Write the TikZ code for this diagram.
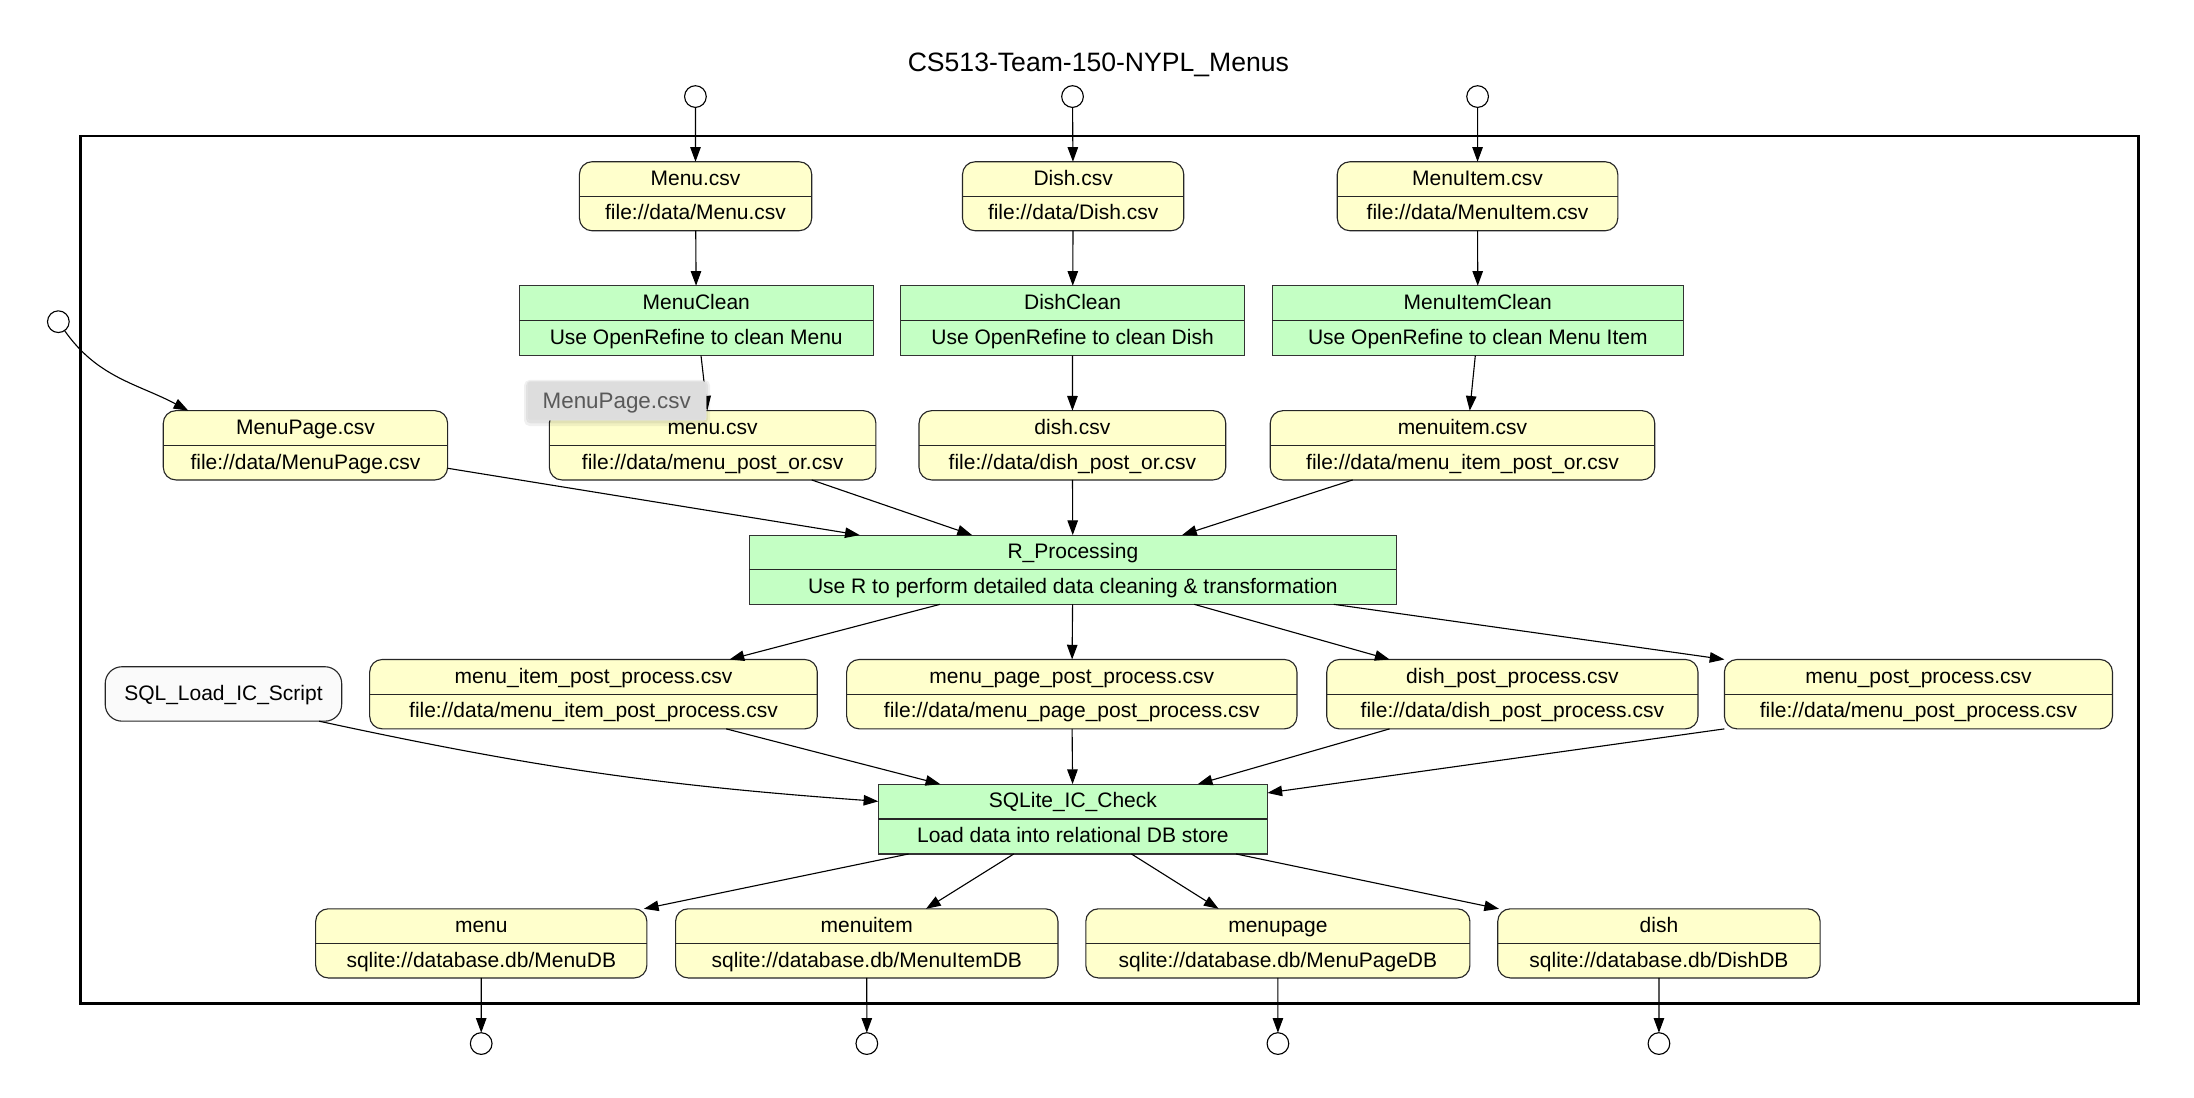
\documentclass[tikz,border=0pt]{standalone}
\usepackage{fontspec}
\setmainfont{Liberation Sans}
\usetikzlibrary{arrows.meta,calc}
\definecolor{fileyellow}{RGB}{255,255,204}
\definecolor{procgreen}{RGB}{196,255,196}
\definecolor{tipgray}{RGB}{221,221,221}
\tikzset{
  filebox/.style={draw=black!85, fill=fileyellow, rounded corners=9pt, line width=0.8pt, inner sep=0pt, outer sep=0pt},
  procbox/.style={draw=black!80, fill=procgreen, line width=0.8pt, inner sep=0pt, outer sep=0pt},
  scriptbox/.style={draw=black!85, fill=black!2, rounded corners=12pt, line width=0.8pt, inner sep=0pt, outer sep=0pt},
  port/.style={circle, draw=black, fill=white, minimum size=15.5pt, inner sep=0pt, outer sep=0pt, line width=0.8pt},
  txt/.style={font=\fontsize{15}{18}\selectfont, inner sep=0pt, anchor=base},
  divline/.style={line width=0.8pt, draw=black!85},
  edge/.style={draw=black, line width=0.8pt, -{Triangle[length=10.5pt,width=7.5pt]}},
  frame/.style={draw=black, line width=2pt, inner sep=0pt, outer sep=0pt},
}
% #1 style, #2 name, #3 x1, #4 x2, #5 y1, #6 y2, #7 top text, #8 bottom text
\newcommand\twobox[8]{%
  \node[#1, minimum width={(#4-#3)*1pt}, minimum height={(#6-#5)*1pt}] (#2) at ({(#3+#4)/2},{(#5+#6)/2}) {};
  \draw[divline] (#2.west) -- (#2.east);
  \node[txt] (#2-a) at ({(#3+#4)/2},{(3*#5+#6)/4+4.5}) {#7};
  \node[txt] (#2-b) at ({(#3+#4)/2},{(#5+3*#6)/4+4.6}) {#8};
}
\begin{document}
\begin{tikzpicture}[x=1pt,y=-1pt]
\useasboundingbox (0,0) rectangle (1568,784.7);
\fill[white] (0,0) rectangle (1568,784.7);

% title
\node[font=\fontsize{19}{23}\selectfont, anchor=base, inner sep=0pt] (title) at (785,51.2) {CS513-Team-150-NYPL\_Menus};

% frame
\node[frame, minimum width=1470.5pt, minimum height=619.9pt] (frm) at (792.95,407.15) {};

% ports
\node[port] (in1) at (497,69) {};
\node[port] (in2) at (766.5,69) {};
\node[port] (in3) at (1056,69) {};
\node[port] (in4) at (41.7,229.9) {};
\node[port] (out1) at (343.9,745.8) {};
\node[port] (out2) at (619.5,745.8) {};
\node[port] (out3) at (913.3,745.8) {};
\node[port] (out4) at (1185.6,745.8) {};

% row 1
\twobox{filebox}{mcsv}{414.1}{580.1}{115.6}{164.9}{Menu.csv}{file://data/Menu.csv}
\twobox{filebox}{dcsv}{687.9}{846}{115.6}{164.9}{Dish.csv}{file://data/Dish.csv}
\twobox{filebox}{micsv}{955.7}{1156.2}{115.6}{164.9}{MenuItem.csv}{file://data/MenuItem.csv}
% row 2
\twobox{procbox}{mclean}{371}{624.2}{204.2}{254.2}{MenuClean}{Use OpenRefine to clean Menu}
\twobox{procbox}{dclean}{643.7}{889.4}{204.2}{254.2}{DishClean}{Use OpenRefine to clean Dish}
\twobox{procbox}{miclean}{909.3}{1203}{204.2}{254.2}{MenuItemClean}{Use OpenRefine to clean Menu Item}
% row 3
\twobox{filebox}{mpcsv}{116.7}{319.9}{293.5}{343}{MenuPage.csv}{file://data/MenuPage.csv}
\twobox{filebox}{menucsv}{392.6}{626}{293.5}{343}{menu.csv}{file://data/menu\_post\_or.csv}
\twobox{filebox}{dishcsv}{656.8}{876}{293.5}{343}{dish.csv}{file://data/dish\_post\_or.csv}
\twobox{filebox}{mi2csv}{907.8}{1182.6}{293.5}{343}{menuitem.csv}{file://data/menu\_item\_post\_or.csv}
% R
\twobox{procbox}{rproc}{535.5}{998}{382.4}{431.9}{R\_Processing}{Use R to perform detailed data cleaning \& transformation}
% row 5
\node[scriptbox, minimum width=169pt, minimum height=38.9pt] (sqlload) at (159.7,495.95) {};
\node[txt] (sqlload-t) at (159.7,500.7) {SQL\_Load\_IC\_Script};
\twobox{filebox}{mipp}{264.2}{584.1}{471.3}{520.9}{menu\_item\_post\_process.csv}{file://data/menu\_item\_post\_process.csv}
\twobox{filebox}{mppp}{605.1}{926.9}{471.3}{520.9}{menu\_page\_post\_process.csv}{file://data/menu\_page\_post\_process.csv}
\twobox{filebox}{dpp}{948.2}{1213.5}{471.3}{520.9}{dish\_post\_process.csv}{file://data/dish\_post\_process.csv}
\twobox{filebox}{mpp}{1232.4}{1509.7}{471.3}{520.9}{menu\_post\_process.csv}{file://data/menu\_post\_process.csv}
% SQLite
\twobox{procbox}{sqlite}{627.7}{905.8}{560.4}{610.3}{SQLite\_IC\_Check}{Load data into relational DB store}
% row 7
\twobox{filebox}{menudb}{225.6}{462.3}{649.5}{698.9}{menu}{sqlite://database.db/MenuDB}
\twobox{filebox}{midb}{482.8}{756.1}{649.5}{698.9}{menuitem}{sqlite://database.db/MenuItemDB}
\twobox{filebox}{mpdb}{776}{1050.5}{649.5}{698.9}{menupage}{sqlite://database.db/MenuPageDB}
\twobox{filebox}{ddb}{1070.4}{1300.8}{649.5}{698.9}{dish}{sqlite://database.db/DishDB}

% edges
\draw[edge] (in1) -- (mcsv);
\draw[edge] (in2) -- (dcsv);
\draw[edge] (in3) -- (micsv);
\draw[edge] (mcsv) -- (mclean);
\draw[edge] (dcsv) -- (dclean);
\draw[edge] (micsv) -- (miclean);
\draw[edge] ([xshift=3.4pt]mclean.south) -- ([xshift=-3.8pt]menucsv.north);
\draw[edge] (dclean) -- (dishcsv);
\draw[edge] ([xshift=-1.8pt]miclean.south) -- ([xshift=5.2pt]mi2csv.north);
\draw[edge] (in4) to[out=-55,in=152] ([xshift=17.9pt]mpcsv.north west);
\draw[edge] ([yshift=-16.4pt]mpcsv.east) -- ([xshift=78.9pt]rproc.north west);
\draw[edge] ([xshift=70.8pt]menucsv.south) -- ([xshift=159.2pt]rproc.north west);
\draw[edge] (dishcsv) -- (rproc);
\draw[edge] ([xshift=-78.5pt]mi2csv.south) -- ([xshift=309.3pt]rproc.north west);
\draw[edge] ([xshift=136.3pt]rproc.south west) -- ([xshift=97.25pt]mipp.north);
\draw[edge] (rproc) -- (mppp);
\draw[edge] ([xshift=318pt]rproc.south west) -- ([xshift=44.9pt]dpp.north west);
\draw[edge] ([xshift=417.7pt]rproc.south west) -- (mpp.north west);
\draw[edge] ([xshift=-16.2pt]sqlload.south east) to[bend right=4] ([yshift=12.65pt]sqlite.west);
\draw[edge] ([xshift=94.85pt]mipp.south) -- ([xshift=44.3pt]sqlite.north west);
\draw[edge] (mppp) -- (sqlite);
\draw[edge] ([xshift=44.9pt]dpp.south west) -- ([xshift=228.3pt]sqlite.north west);
\draw[edge] (mpp.south west) -- ([yshift=-6.3pt]sqlite.north east);
\draw[edge] ([xshift=21.6pt]sqlite.south west) -- ([xshift=-2.1pt]menudb.north east);
\draw[edge] ([xshift=96.8pt]sqlite.south west) -- ([xshift=179pt]midb.north west);
\draw[edge] ([xshift=180.9pt]sqlite.south west) -- ([xshift=94.9pt]mpdb.north west);
\draw[edge] ([xshift=255.7pt]sqlite.south west) -- ([xshift=0.9pt]ddb.north west);
\draw[edge] (menudb) -- (out1);
\draw[edge] (midb) -- (out2);
\draw[edge] (mpdb) -- (out3);
\draw[edge] (ddb) -- (out4);

% tooltip
\node[fill=black, opacity=0.06, minimum width=133pt, minimum height=33pt, inner sep=0pt, rounded corners=4pt] (tipshadow) at (441,288) {};
\node[fill=black, opacity=0.06, minimum width=130pt, minimum height=30pt, inner sep=0pt, rounded corners=3pt] (tipshadow2) at (441,287.5) {};
\node[fill=tipgray, draw=black!10, line width=0.4pt, minimum width=127.7pt, minimum height=27.4pt, inner sep=0pt, rounded corners=1.5pt] (tip) at (440.75,286.5) {};
\node[font=\fontsize{16}{19}\selectfont, text=black!65, anchor=base, inner sep=0pt] (tiptext) at (440.75,291.8) {MenuPage.csv};
\end{tikzpicture}
\end{document}
